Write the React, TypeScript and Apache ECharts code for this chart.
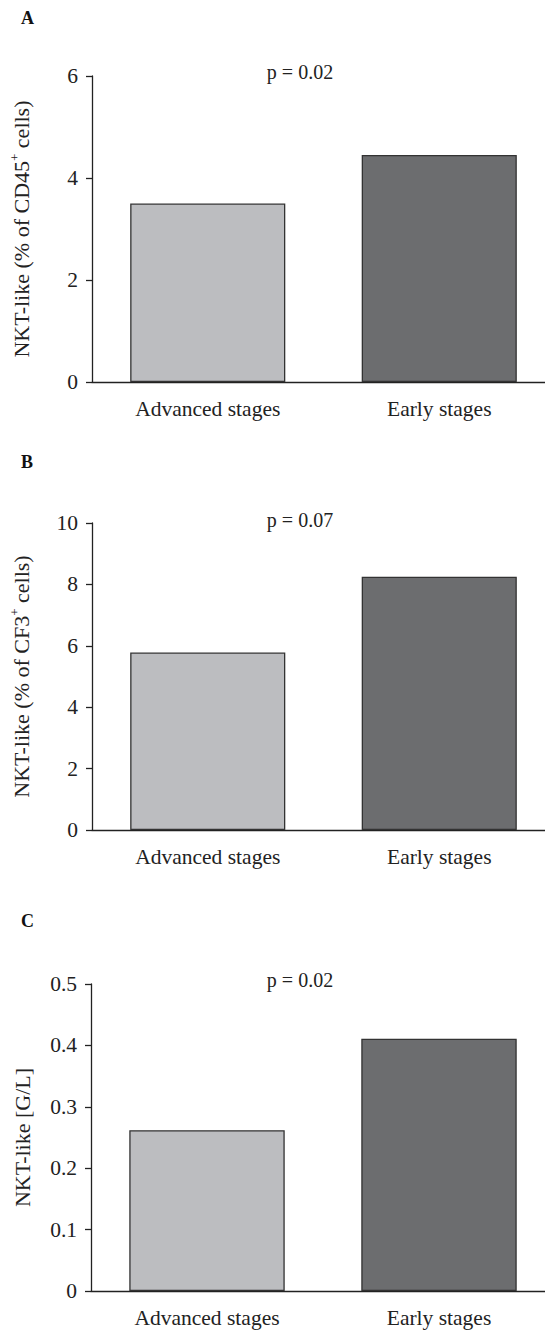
import React, { useEffect, useRef } from "react";
import * as echarts from "echarts";

const categories = ["Advanced stages", "Early stages"];
const valuesA = [3.5, 4.45];
const valuesB = [5.78, 8.25];
const valuesC = [0.262, 0.411];
const pLabels = ["p = 0.02", "p = 0.07", "p = 0.02"];
const panelLetters = ["A", "B", "C"];
const yNames = [
  "NKT-like (% of CD45{sup|+} cells)",
  "NKT-like (% of CF3{sup|+} cells)",
  "NKT-like [G/L]",
];
const yMax = [6, 10, 0.5];
const yInterval = [2, 2, 0.1];
const barColors = ["#bcbdc0", "#6c6d6f"];

const FONT = '"Liberation Serif", "Times New Roman", serif';
const gridTops = [76, 523, 984];
const gridHeights = [306, 307, 307];
const pY = [72, 520, 980];
const letterY = [19, 463, 922];

export default function App() {
  const ref = useRef<HTMLDivElement>(null);
  useEffect(() => {
    document.body.style.margin = "0";
    document.body.style.overflow = "hidden";
    const chart = echarts.init(ref.current!, null, { renderer: "svg" });
    const allValues = [valuesA, valuesB, valuesC];
    const option: any = {
      animation: false,
      backgroundColor: "#ffffff",
      grid: gridTops.map((t, i) => ({ left: 91, right: 0, top: t, height: gridHeights[i] })),
      xAxis: allValues.map((_, i) => ({
        type: "category",
        gridIndex: i,
        data: categories,
        axisLine: { lineStyle: { color: "#222", width: 1.3 } },
        axisTick: { alignWithLabel: true, length: 10, lineStyle: { color: "#222", width: 1.3 } },
        axisLabel: { fontFamily: FONT, fontSize: 21.5, color: "#222", margin: 16 },
      })),
      yAxis: allValues.map((_, i) => ({
        type: "value",
        gridIndex: i,
        min: 0,
        max: yMax[i],
        interval: yInterval[i],
        name: yNames[i],
        nameLocation: "middle",
        nameGap: 58,
        nameTextStyle: {
          fontFamily: FONT,
          fontSize: 22,
          color: "#222",
          rich: {
            sup: { fontFamily: FONT, fontSize: 13, color: "#222", padding: [0, 0, 13, 0] },
          },
        },
        splitLine: { show: false },
        axisLine: { show: true, lineStyle: { color: "#222", width: 1.3 } },
        axisTick: { show: true, length: 6, lineStyle: { color: "#222", width: 1.3 } },
        axisLabel: { fontFamily: FONT, fontSize: 21.5, color: "#222", margin: 14 },
      })),
      series: allValues.map((vals, i) => ({
        type: "bar",
        xAxisIndex: i,
        yAxisIndex: i,
        barWidth: "67%",
        data: vals.map((v, j) => ({
          value: v,
          itemStyle: { color: barColors[j], borderColor: "#333", borderWidth: 1.3 },
        })),
      })),
      graphic: [
        ...panelLetters.map((l, i) => ({
          type: "text",
          left: 21,
          top: letterY[i] - 10,
          style: { text: l, fontFamily: FONT, fontSize: 18, fontWeight: "bold", fill: "#111" },
        })),
        ...pLabels.map((p, i) => ({
          type: "text",
          x: 300,
          y: pY[i],
          style: {
            text: p,
            fontFamily: FONT,
            fontSize: 20,
            fill: "#222",
            textAlign: "center",
            textVerticalAlign: "middle",
          },
        })),
      ],
    };
    chart.setOption(option);
    return () => chart.dispose();
  }, []);
  return (
    <div
      ref={ref}
      style={{ position: "absolute", left: 0, top: 0, width: 555, height: 1331 }}
    />
  );
}
